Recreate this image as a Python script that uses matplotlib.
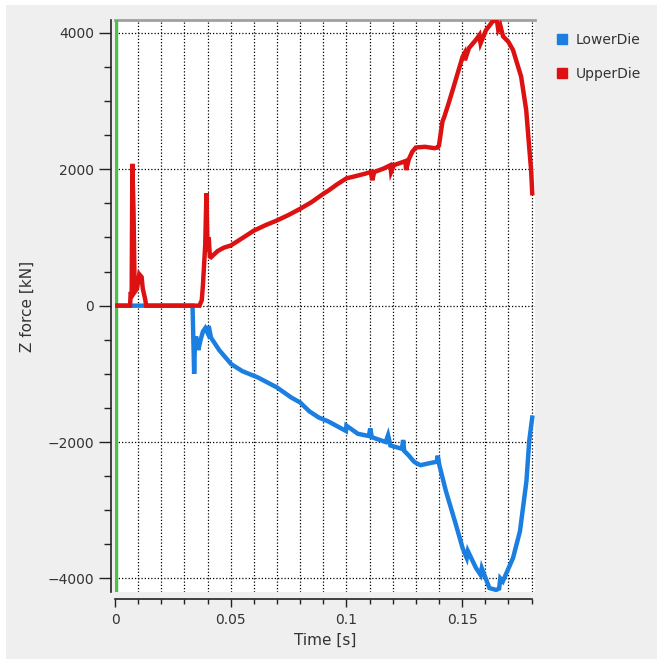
import matplotlib
matplotlib.use('Agg')
import matplotlib.pyplot as plt
from matplotlib.lines import Line2D
from matplotlib.patches import Rectangle
from matplotlib.ticker import MultipleLocator, FuncFormatter

# ------------ data ------------
t_upper = [0, 0.0065, 0.0068, 0.0072, 0.0075, 0.0080, 0.0085, 0.0095, 0.0105,
           0.0115, 0.0120, 0.0130, 0.0135, 0.0365, 0.0375, 0.0380, 0.0390, 0.0395,
           0.0400, 0.0405, 0.0410, 0.0415, 0.0443, 0.0470, 0.0500, 0.0550, 0.0600,
           0.0650, 0.0700, 0.0750, 0.0800, 0.0850, 0.0900, 0.0923, 0.0960,
           0.1000, 0.1040, 0.1080, 0.1105, 0.1112, 0.1120, 0.1160, 0.1190, 0.1193,
           0.1205, 0.1230, 0.1255, 0.1258, 0.1270, 0.1285, 0.1300, 0.1340, 0.1380,
           0.1395, 0.1400, 0.1415, 0.1423, 0.1440, 0.1459, 0.1480, 0.1502, 0.1510,
           0.1512, 0.1530, 0.1560, 0.1575, 0.1580, 0.1603, 0.1632, 0.1650, 0.1656,
           0.1665, 0.1677, 0.1700, 0.1720, 0.1755, 0.1777, 0.1791, 0.1798, 0.1803]
f_upper = [0, 0, 200, 150, 2080, 1400, 200, 250, 460,
           420, 250, 100, 0, 0, 80, 300, 900, 1650,
           800, 1000, 720, 710, 800, 850, 882, 990, 1100,
           1180, 1250, 1330, 1420, 1520, 1640, 1690, 1780,
           1867, 1900, 1935, 1960, 1840, 1960, 2010, 2060, 1960,
           2060, 2090, 2120, 1990, 2150, 2260, 2320, 2330, 2310,
           2320, 2350, 2700, 2770, 2950, 3160, 3400, 3650, 3700,
           3600, 3780, 3900, 3970, 3850, 4040, 4170, 4190, 4050,
           4110, 3950, 3870, 3750, 3360, 2870, 2280, 2000, 1650]

t_lower = [0, 0.0335, 0.0340, 0.0342, 0.0345, 0.0350, 0.0360, 0.0370, 0.0380,
           0.0390, 0.0400, 0.0405, 0.0415, 0.0450, 0.0502, 0.0550, 0.0618, 0.0700,
           0.0762, 0.0800, 0.0840, 0.0880, 0.0923, 0.0998, 0.1000, 0.1050, 0.1097,
           0.1103, 0.1110, 0.1170, 0.1180, 0.1190, 0.1240, 0.1245, 0.1250, 0.1270,
           0.1290, 0.1297, 0.1320, 0.1360, 0.1390, 0.1395, 0.1401, 0.1430, 0.1473,
           0.1502, 0.1520, 0.1525, 0.1560, 0.1580, 0.1585, 0.1618, 0.1647, 0.1660,
           0.1665, 0.1676, 0.1720, 0.1750, 0.1778, 0.1790, 0.1803]
f_lower = [0, 0, -700, -1000, -600, -450, -650, -500, -380,
           -330, -400, -300, -470, -650, -857, -960, -1054, -1200,
           -1348, -1420, -1550, -1640, -1700, -1838, -1760, -1880, -1912,
           -1800, -1930, -2000, -1900, -2050, -2100, -1970, -2130, -2200,
           -2280, -2300, -2340, -2310, -2290, -2200, -2330, -2720, -3210,
           -3554, -3700, -3600, -3848, -3950, -3850, -4142, -4170, -4150,
           -4000, -4044, -3701, -3309, -2574, -1985, -1642]

series_names = ['LowerDie', 'UpperDie']
series_colors = ['#1a7fe0', '#dd1111']
marker_time = 0.0004

fig = plt.figure(figsize=(6.57, 6.59), dpi=100)
fig.patch.set_facecolor('white')
# grey panel behind everything (thin white margin top/left like the original window)
fig.patches.append(Rectangle((6 / 657, 0), 1, 1 - 5 / 659, transform=fig.transFigure,
                             facecolor='#efefef', edgecolor='none', zorder=-10))

ax = fig.add_axes([115 / 657, 1 - 592 / 659, 420 / 657, 572 / 659])
ax.set_facecolor('white')

# ------------ curves ------------
ax.axvline(marker_time, color='#4cc04c', lw=3.2, zorder=3)
ax.plot(t_lower, f_lower, color=series_colors[0], lw=3.2, solid_joinstyle='miter', zorder=4)
ax.plot(t_upper, f_upper, color=series_colors[1], lw=3.2, solid_joinstyle='miter', zorder=5)

# ------------ axes ------------
ax.set_xlim(0, 0.1815)
ax.set_ylim(-4200, 4190)

ax.xaxis.set_major_locator(MultipleLocator(0.05))
ax.xaxis.set_minor_locator(MultipleLocator(0.01))
ax.xaxis.set_major_formatter(FuncFormatter(lambda v, p: '%g' % round(v, 3)))
ax.yaxis.set_major_locator(MultipleLocator(2000))
ax.yaxis.set_minor_locator(MultipleLocator(500))

grid_style = dict(color='black', ls=(0, (1, 1.6)), lw=0.9)
ax.grid(True, which='minor', axis='x', **grid_style)
ax.grid(True, which='major', axis='x', **grid_style)
ax.grid(True, which='major', axis='y', **grid_style)
ax.set_axisbelow(True)

ax.spines['right'].set_visible(False)
ax.spines['top'].set_color('#a0a0a0')
ax.spines['top'].set_linewidth(2)
ax.spines['left'].set_position(('outward', 3))
ax.spines['bottom'].set_position(('outward', 5))
ax.spines['bottom'].set_bounds(0, 0.18)
ax.spines['left'].set_color('#222222')
ax.spines['bottom'].set_color('#222222')
ax.spines['left'].set_linewidth(1.2)
ax.spines['bottom'].set_linewidth(1.2)

ax.tick_params(axis='y', which='major', length=9, width=1, color='#222222',
               labelsize=10, labelcolor='#333333', pad=3)
ax.tick_params(axis='y', which='minor', length=5, width=1, color='#222222')
ax.tick_params(axis='x', which='major', length=6, width=1, color='#222222',
               labelsize=10, labelcolor='#333333', pad=4)
ax.tick_params(axis='x', which='minor', length=3.5, width=1, color='#222222')

ax.set_xlabel('Time [s]', fontsize=11, color='#333333', labelpad=4)
ax.set_ylabel('Z force [kN]', fontsize=11, color='#333333')
ax.yaxis.set_label_coords(-0.19, 0.5)

# ------------ legend ------------
handles = [Line2D([], [], ls='none', marker='s', markersize=7, color=c) for c in series_colors]
leg = fig.legend(handles, series_names, loc='upper left', bbox_to_anchor=(544 / 657, 1 - 20 / 659),
                 frameon=False, fontsize=10, labelspacing=1.5, handlelength=0.8,
                 handletextpad=0.6, labelcolor='#333333')

plt.savefig('out.png', dpi=100, facecolor=fig.get_facecolor())
